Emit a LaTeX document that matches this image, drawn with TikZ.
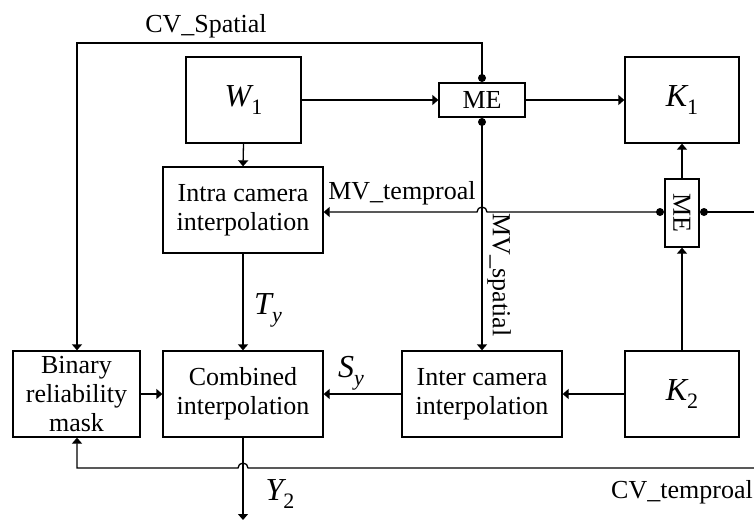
\documentclass[tikz,border=0pt]{standalone}
\usepackage{fontspec}
\setmainfont{Liberation Serif}
\usetikzlibrary{arrows.meta}
\newcommand{\vsym}[2]{{\fontsize{32}{32}\selectfont\itshape #1}\raisebox{-0.3em}{\fontsize{22}{22}\selectfont #2}}
\begin{document}
\begin{tikzpicture}[x=1pt,y=-1pt,
  every node/.style={font=\fontsize{26}{29}\selectfont},
  blk/.style={draw,line width=1.3pt,rectangle,align=center,inner sep=0pt,minimum height=86pt},
  conn/.style={line width=1.3pt},
  arr/.style={conn,-{Triangle[length=6pt,width=10pt]}},
  dotc/.style={circle,fill=black,inner sep=0pt,minimum size=8pt}]
\useasboundingbox (0,0) rectangle (754,520);
% blocks
\node[blk,minimum width=115pt] (W1) at (243.5,100) {\vsym{W}{1}};
\node[blk,minimum width=114pt] (K1) at (682,100) {\vsym{K}{1}};
\node[blk,minimum width=86pt,minimum height=34pt] (ME1) at (482,100) {ME};
\node[blk,minimum width=160pt] (intra) at (243,210) {Intra camera\\interpolation};
\node[blk,minimum width=34pt,minimum height=68pt] (ME2) at (682,213) {\rotatebox{-90}{ME}};
\node[blk,minimum width=127pt] (bin) at (76.5,394) {Binary\\reliability\\mask};
\node[blk,minimum width=160pt] (comb) at (243,394) {Combined\\interpolation};
\node[blk,minimum width=160pt] (inter) at (482,394) {Inter camera\\interpolation};
\node[blk,minimum width=114pt] (K2) at (682,394) {\vsym{K}{2}};
% dots
\node[dotc] (d1) at (482,78) {};
\node[dotc] (d2) at (482,122) {};
\node[dotc] (d3) at (660,212) {};
\node[dotc] (d4) at (704,212) {};
\coordinate (rightMV) at (754,212);
\coordinate (rightCV) at (754,468);
\coordinate (yout) at (243,520);
% connectors
\draw[arr] (W1.east) -- (ME1.west);
\draw[arr] (ME1.east) -- (K1.west);
\draw[arr] (W1.south) -- (intra.north);
\draw[arr] (intra.south) -- (comb.north);
\draw[arr] (bin.east) -- (comb.west);
\draw[arr] (inter.west) -- (comb.east);
\draw[arr] (K2.west) -- (inter.east);
\draw[arr] (K2.north) -- (ME2.south);
\draw[arr] (ME2.north) -- (K1.south);
\draw[arr] (d2.center) -- (inter.north);
\draw[arr] (d1.center) -- (482,43) -- (77,43) -- (bin.north -| 77,0);
\draw[arr] (d3.center) -- (487,212) arc[start angle=0,end angle=180,radius=5pt] -- (intra.east |- 0,212);
\draw[conn] (d4.center) -- (rightMV);
\draw[arr] (comb.south) -- (yout);
\draw[arr] (rightCV) -- (248,468) arc[start angle=0,end angle=180,radius=5pt] -- (77,468) -- (bin.south -| 77,0);
% labels
\node at (206,26) {CV\_Spatial};
\node at (402,193) {MV\_temproal};
\node[rotate=-90] at (499,275) {MV\_spatial};
\node at (682,492) {CV\_temproal};
\node at (268,310) {\vsym{T}{\itshape y}};
\node at (351,373) {\vsym{S}{\itshape y}};
\node at (280,494) {\vsym{Y}{2}};
\end{tikzpicture}
\end{document}
